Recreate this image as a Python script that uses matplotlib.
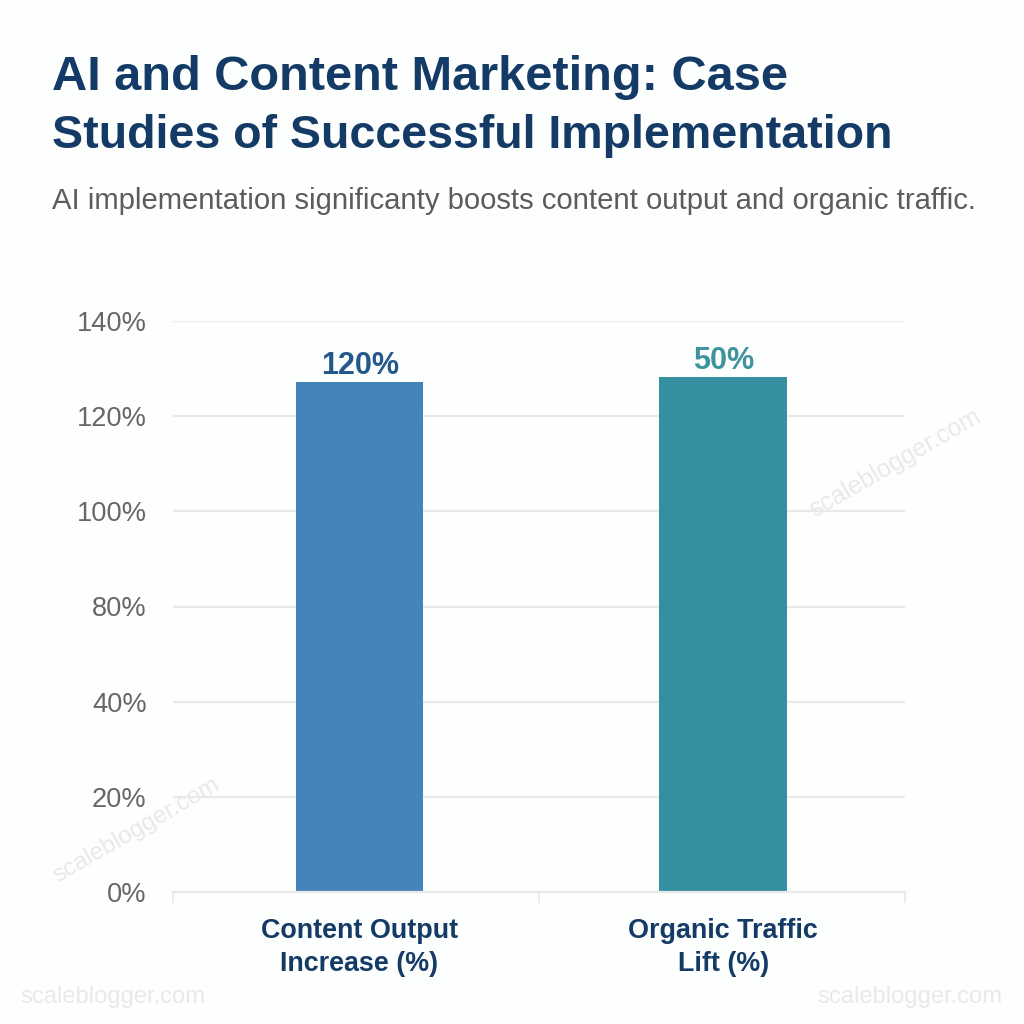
#!/usr/bin/env python3
import matplotlib.pyplot as plt

plt.rcParams['font.family'] = ['Liberation Sans', 'DejaVu Sans']

categories = ["Content Output\nIncrease (%)", "Organic Traffic\nLift (%)"]
# the drawn bars don't agree with their labels, so heights are in axis steps
bar_heights = [5.36, 5.41]
bar_labels = ["120%", "50%"]
bar_colors = ["#4484ba", "#368ea1"]
label_colors = ["#24588c", "#3f939f"]
# the axis goes 80% -> 40% with no 60%, labels stay evenly spaced
tick_labels = ["0%", "20%", "40%", "80%", "100%", "120%", "140%"]

W = 1024.0
navy = "#143a66"
grid_col = "#e9e9e9"
mark_col = "#e9e9e9"

fig = plt.figure(figsize=(10.24, 10.24), dpi=100, facecolor="#fdfefe")

def ftext(x, y, s, **kw):
    # x, y in pixels from the top left
    fig.text(x / W, 1 - y / W, s, **kw)

ftext(52, 90, "AI and Content Marketing: Case", fontsize=35.1, fontweight="bold", color=navy)
ftext(52, 148, "Studies of Successful Implementation", fontsize=33.5, fontweight="bold", color=navy)
ftext(52, 209, "AI implementation significanty boosts content output and organic traffic.",
      fontsize=21.1, color="#5c5c5c")

ax = fig.add_axes([173 / W, 1 - 892 / W, (905 - 173) / W, (892 - 321) / W])
ax.set_facecolor("none")
ax.set_xlim(-0.513, 1.5)
ax.set_ylim(0, 6)
ax.yaxis.grid(True, color=grid_col, linewidth=1.6)
ax.set_axisbelow(True)

bars = ax.bar(range(len(categories)), bar_heights, width=0.351, color=bar_colors, zorder=2)
for b, lab, col in zip(bars, bar_labels, label_colors):
    ax.annotate(lab, (b.get_x() + b.get_width() / 2, b.get_height()), xytext=(0.5, 1),
                textcoords="offset points", ha="center", va="bottom",
                fontsize=22, fontweight="bold", color=col)

for s in ["top", "right", "left"]:
    ax.spines[s].set_visible(False)
ax.spines["bottom"].set_color(grid_col)
ax.spines["bottom"].set_linewidth(1.6)

ax.set_yticks(range(len(tick_labels)))
ax.set_yticklabels(tick_labels, fontsize=19.6, color="#666666")
ax.tick_params(axis="y", length=0, pad=19)

ax.set_xticks([-0.513, 0.4935, 1.5])
ax.set_xticklabels([])
ax.tick_params(axis="x", which="major", length=8, width=1.4, color=grid_col)
ax.set_xticks(range(len(categories)), categories, minor=True)
ax.tick_params(axis="x", which="minor", length=0, pad=19, labelsize=19.4, labelcolor=navy)
for t in ax.get_xminorticklabels():
    t.set_fontweight("bold")
    t.set_linespacing(1.34)

# watermarks
ftext(20, 1003, "scaleblogger.com", fontsize=17.1, color=mark_col)
ftext(817, 1003, "scaleblogger.com", fontsize=17.1, color=mark_col)
ftext(136, 830, "scaleblogger.com", fontsize=17.5, color=mark_col, rotation=30,
      ha="center", va="center", rotation_mode="anchor")
ftext(895, 463, "scaleblogger.com", fontsize=18, color=mark_col, rotation=30,
      ha="center", va="center", rotation_mode="anchor")

fig.savefig("out.png", dpi=100, facecolor=fig.get_facecolor())
